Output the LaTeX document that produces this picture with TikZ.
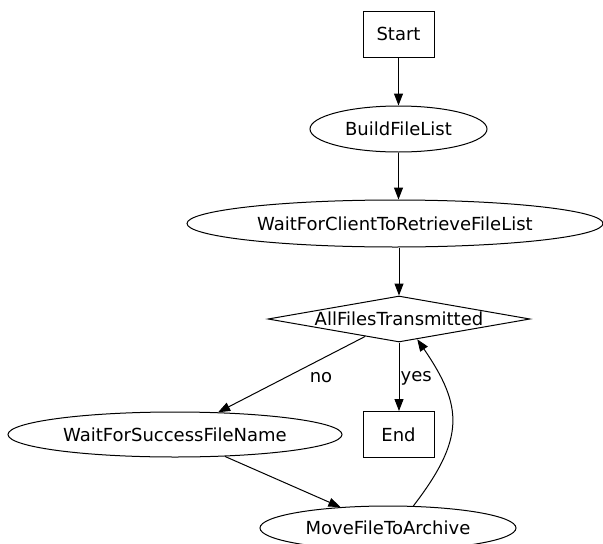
\documentclass[tikz,border=0pt]{standalone}
\usepackage{fontspec}
\setmainfont{DejaVu Sans}
\usetikzlibrary{shapes.geometric,arrows.meta}
\tikzset{
  labelfont/.style={font=\fontsize{18}{21}\selectfont},
  base/.style={draw=black, line width=1pt, inner sep=0pt, labelfont},
  boxnode/.style={base, rectangle, minimum width=71pt, minimum height=46pt},
  ovalnode/.style={base, ellipse},
  decision/.style={base, diamond},
  txt/.style={inner sep=0pt, labelfont},
  flow/.style={draw=black, line width=1pt, -{Triangle[length=12pt,width=9pt]}}
}
\begin{document}
\begin{tikzpicture}[x=1pt, y=-1pt]
  \useasboundingbox (0,0) rectangle (603,544);
  \fill[white] (0,0) rectangle (603,544);
  \clip (0,0) rectangle (603,544);

  % states
  \node[boxnode] (start) at (398.5,34) {Start};
  \node[ovalnode, minimum width=177pt, minimum height=46pt] (build) at (398.5,129) {BuildFileList};
  \node[ovalnode, minimum width=416pt, minimum height=47pt] (wait) at (395,223.5) {WaitForClientToRetrieveFileList};
  \node[decision, minimum width=262pt, minimum height=46pt] (all) at (399,319) {};
  \node[txt] (allText) at (all) {AllFilesTransmitted};
  \node[ovalnode, minimum width=334pt, minimum height=45pt] (succ) at (175,434.5) {WaitForSuccessFileName};
  \node[boxnode] (end) at (398.5,434.5) {End};
  \node[ovalnode, minimum width=256pt, minimum height=44pt] (move) at (388,528) {MoveFileToArchive};

  % transitions
  \draw[flow] (start) -- (start |- build.north);
  \draw[flow] (build) -- (build |- wait.north);
  \draw[flow] (all.north |- wait.south) -- (all.north);
  \draw[flow] (all) -- (succ);
  \draw[flow] (all.south) -- (all.south |- end.north);
  \draw[flow] (succ) -- (move);
  \draw[flow] (move.41) .. controls (464.7,439) and (463.7,407) .. (all.-48);

  % branch labels
  \node[txt] (noLbl) at (321,378) {no};
  \node[txt, anchor=west] (yesLbl) at (400.5,378) {yes};
\end{tikzpicture}
\end{document}
